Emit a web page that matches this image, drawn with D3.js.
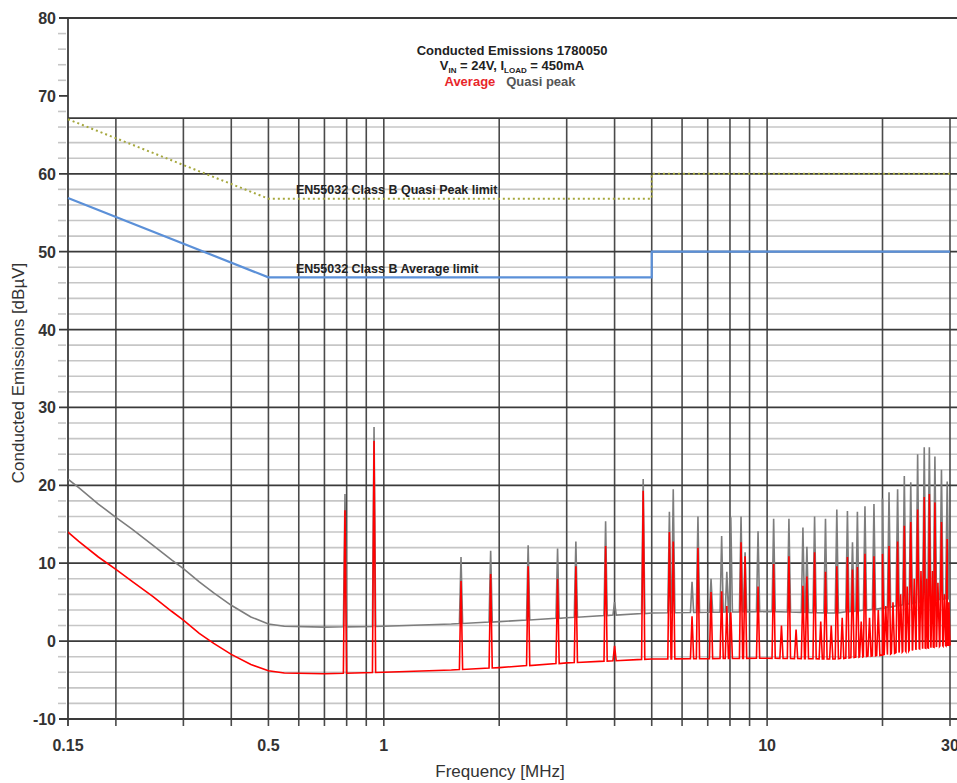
<!DOCTYPE html>
<html>
<head>
<meta charset="utf-8">
<script src="https://cdn.jsdelivr.net/npm/d3@7/dist/d3.min.js"></script>
<style>
  body { margin: 0; background: #fff; }
  svg { display: block; font-family: "Liberation Sans", Arial, sans-serif; }
</style>
</head>
<body>
<svg></svg>
<script>
// values (MHz / dBuV)
let baseFreq = [0.15, 0.16, 0.18, 0.2, 0.22, 0.25, 0.28, 0.3, 0.33, 0.36, 0.4, 0.45, 0.5, 0.55, 0.7, 1, 1.5, 2, 3, 5, 10, 15, 20, 25, 30]
let avgBase  = [14, 12.8, 10.8, 9.2, 7.7, 5.7, 3.8, 2.7, 1.0, -0.3, -1.7, -3.0, -3.8, -4.1, -4.2, -4.0, -3.7, -3.4, -2.8, -2.3, -2.2, -2.3, -1.8, -1.0, -0.5]
let qpBase   = [20.8, 19.7, 17.6, 15.9, 14.4, 12.3, 10.4, 9.3, 7.6, 6.2, 4.6, 3.1, 2.2, 1.9, 1.8, 1.9, 2.2, 2.5, 3.0, 3.6, 3.8, 3.6, 4.2, 5.0, 5.5]

let spikeFreq = [0.792, 0.943, 1.59, 1.90, 2.38, 2.84, 3.17, 3.79, 4.00, 4.75, 5.56, 5.69, 6.37, 6.60, 7.14, 7.61, 7.85, 8.04,
                 8.55, 8.76, 9.47, 10.4, 11.4, 12.4, 12.7, 13.3, 14.2, 15.2, 16.2, 16.7, 17.2, 18.0, 19.0, 20.0, 20.8, 21.9,
                 22.8, 23.7, 24.7, 25.7, 26.5, 27.4, 28.5, 29.5]
let avgPeak = [16.8, 25.7, 7.7, 8.6, 9.6, 8.0, 9.6, 12.2, -0.6, 19.3, 14.0, 12.8, 3.2, 12.0, 6.3, 6.4, 4.5, 3.7,
               12.7, 10.9, 7.0, 9.9, 10.9, 7.1, 8.3, 11.4, 8.9, 9.6, 10.8, 9.2, 9.5, 11.2, 10.9, 11.2, 12.2, 12.8,
               14.8, 15.3, 16.9, 18.5, 18.9, 17.8, 15.3, 13.1]
let qpPeak  = [18.9, 27.5, 10.8, 11.6, 12.3, 11.9, 12.8, 15.4, 5.0, 20.8, 16.6, 19.5, 7.6, 16.0, 8.0, 13.5, 8.9, 15.9,
               16.0, 11.4, 14.1, 15.7, 15.7, 14.6, 12.1, 16.0, 15.7, 16.9, 16.7, 12.7, 16.6, 17.3, 17.6, 18.3, 19.1, 19.5,
               21.2, 20.4, 24.0, 24.9, 24.9, 23.7, 22.0, 20.5]

// smaller average-only harmonics in the dense part above 10 MHz
let minorFreq = [10.9, 11.9, 13.8, 14.7, 15.7, 17.6, 18.5, 19.5, 20.4, 21.3, 22.3, 23.2, 24.2, 25.2, 26.1, 27.0, 27.9, 29.0, 29.8]
let minorAvg  = [2.0, 1.5, 2.5, 2.0, 3.0, 2.5, 3.0, 4.0, 4.5, 5.0, 6.0, 7.0, 8.0, 9.0, 8.0, 9.0, 7.5, 6.0, 5.0]

let qpLimitFreq  = [0.15, 0.5, 5, 5, 30]
let qpLimit      = [67, 56.8, 56.8, 60, 60]
let avgLimitFreq = [0.15, 0.5, 5, 5, 30]
let avgLimit     = [56.9, 46.7, 46.7, 50, 50]

let xTickLabels = [0.15, 0.5, 1, 10, 30]
let xGridFreq = [0.2, 0.3, 0.4, 0.5, 0.6, 0.7, 0.8, 0.9, 1, 2, 3, 4, 5, 6, 7, 8, 9, 10, 20, 30]
let yMajor = [-10, 0, 10, 20, 30, 40, 50, 60, 70, 80]
let yMinor = [-8, -6, -4, -2, 2, 4, 6, 8, 12, 14, 16, 18, 22, 24, 26, 28, 32, 34, 36, 38, 42, 44, 46, 48,
              52, 54, 56, 58, 62, 64, 66, 68, 72, 74, 76, 78]

let width = 957
let height = 783
let plotLeft = 68
let plotRight = 950
let plotTop = 18
let plotBottom = 719
let gridTopDb = 67.15

let svg = d3.select("svg").attr("width", width).attr("height", height)

let xScale = d3.scaleLog().domain([0.15, 30]).range([plotLeft, plotRight])
let yScale = d3.scaleLinear().domain([-10, 80]).range([plotBottom, plotTop])
let gridTop = yScale(gridTopDb)

let drawGrid = () => {
  let g = svg.append("g")
  // minor horizontal lines, ticks only above the grid box
  g.selectAll(".minor")
   .data(yMinor)
   .enter()
   .append("line")
   .attr("x1", d => d < gridTopDb ? plotLeft : 58)
   .attr("x2", d => d < gridTopDb ? width : 66)
   .attr("y1", d => yScale(d))
   .attr("y2", d => yScale(d))
   .attr("stroke", "#c6c6c6")
   .attr("stroke-width", 1.6)
  g.selectAll(".minortick")
   .data(yMinor.filter(d => d < gridTopDb))
   .enter()
   .append("line")
   .attr("x1", 58).attr("x2", 66)
   .attr("y1", d => yScale(d)).attr("y2", d => yScale(d))
   .attr("stroke", "#c6c6c6")
   .attr("stroke-width", 1.6)
  // vertical lines
  g.selectAll(".vert")
   .data(xGridFreq)
   .enter()
   .append("line")
   .attr("x1", d => xScale(d))
   .attr("x2", d => xScale(d))
   .attr("y1", gridTop)
   .attr("y2", plotBottom + 7)
   .attr("stroke", "#4a4a4a")
   .attr("stroke-width", 1.6)
  // major horizontal lines
  g.selectAll(".major")
   .data(yMajor)
   .enter()
   .append("line")
   .attr("x1", 59)
   .attr("x2", d => (d < gridTopDb || d == 80) ? width : plotLeft)
   .attr("y1", d => yScale(d))
   .attr("y2", d => yScale(d))
   .attr("stroke", "#3a3a3a")
   .attr("stroke-width", 1.8)
  // top of the grid box
  g.append("line")
   .attr("x1", plotLeft).attr("x2", width)
   .attr("y1", gridTop).attr("y2", gridTop)
   .attr("stroke", "#3a3a3a").attr("stroke-width", 1.6)
  // left axis
  g.append("line")
   .attr("x1", plotLeft).attr("x2", plotLeft)
   .attr("y1", plotTop).attr("y2", plotBottom + 7)
   .attr("stroke", "#3a3a3a").attr("stroke-width", 1.8)
}

let drawLabels = () => {
  svg.append("g")
     .selectAll("text")
     .data(yMajor)
     .enter()
     .append("text")
     .attr("x", 56)
     .attr("y", d => yScale(d) + 6)
     .attr("text-anchor", "end")
     .attr("font-size", 16)
     .attr("font-weight", "bold")
     .attr("fill", "#333")
     .text(d => d)

  svg.append("g")
     .selectAll("text")
     .data(xTickLabels)
     .enter()
     .append("text")
     .attr("x", d => xScale(d))
     .attr("y", 751)
     .attr("text-anchor", "middle")
     .attr("font-size", 16)
     .attr("font-weight", "bold")
     .attr("fill", "#333")
     .text(d => d)

  svg.append("text")
     .attr("x", 500)
     .attr("y", 777)
     .attr("text-anchor", "middle")
     .attr("font-size", 17)
     .attr("fill", "#333")
     .text("Frequency [MHz]")

  svg.append("text")
     .attr("transform", "translate(24, 373) rotate(-90)")
     .attr("text-anchor", "middle")
     .attr("font-size", 17)
     .attr("fill", "#333")
     .text("Conducted Emissions [dB\u00b5V]")

  // title block
  svg.append("text")
     .attr("x", 512).attr("y", 55)
     .attr("text-anchor", "middle")
     .attr("font-size", 13).attr("font-weight", "bold").attr("fill", "#222")
     .text("Conducted Emissions 1780050")

  let sub = svg.append("text")
     .attr("x", 512).attr("y", 70)
     .attr("text-anchor", "middle")
     .attr("font-size", 13).attr("font-weight", "bold").attr("fill", "#222")
  sub.append("tspan").text("V")
  sub.append("tspan").attr("font-size", 8).attr("dy", 3).text("IN")
  sub.append("tspan").attr("dy", -3).text(" = 24V, I")
  sub.append("tspan").attr("font-size", 8).attr("dy", 3).text("LOAD")
  sub.append("tspan").attr("dy", -3).text(" = 450mA")

  let leg = svg.append("text")
     .attr("x", 510).attr("y", 86)
     .attr("text-anchor", "middle")
     .attr("font-size", 13).attr("font-weight", "bold")
  leg.append("tspan").attr("fill", "#e8262a").text("Average")
  leg.append("tspan").attr("fill", "#555").text("\u00a0\u00a0\u00a0Quasi peak")

  svg.append("text")
     .attr("x", 296).attr("y", 194)
     .attr("font-size", 12.5).attr("font-weight", "bold").attr("fill", "#222")
     .text("EN55032 Class B Quasi Peak limit")
  svg.append("text")
     .attr("x", 296).attr("y", 273)
     .attr("font-size", 12.5).attr("font-weight", "bold").attr("fill", "#222")
     .text("EN55032 Class B Average limit")
}

let tracePoints = (base, freqs, peaks) => {
  let baseAt = d3.scaleLog().domain(baseFreq).range(base)
  let pts = baseFreq.map((f, i) => [xScale(f), yScale(base[i])])
  freqs.forEach((f, i) => {
    let x = xScale(f)
    let yb = yScale(baseAt(f))
    pts.push([x - 1.6, yb], [x, yScale(peaks[i])], [x + 1.6, yb])
  })
  pts.sort((a, b) => a[0] - b[0])
  return pts
}

let drawTraces = () => {
  let line = d3.line()
  svg.append("clipPath")
     .attr("id", "plot")
     .append("rect")
     .attr("x", plotLeft).attr("y", gridTop)
     .attr("width", plotRight - plotLeft + 2).attr("height", plotBottom - gridTop)

  let g = svg.append("g").attr("clip-path", "url(#plot)")

  g.append("path")
   .attr("d", line(tracePoints(qpBase, spikeFreq, qpPeak)))
   .attr("fill", "none")
   .attr("stroke", "#7d7d7d")
   .attr("stroke-width", 1.6)

  g.append("path")
   .attr("d", line(tracePoints(avgBase, spikeFreq.concat(minorFreq), avgPeak.concat(minorAvg))))
   .attr("fill", "none")
   .attr("stroke", "#ff0000")
   .attr("stroke-width", 1.6)
}

let drawLimits = () => {
  let line = d3.line()
  let qpPts = qpLimitFreq.map((f, i) => [xScale(f), yScale(qpLimit[i])])
  let avgPts = avgLimitFreq.map((f, i) => [xScale(f), yScale(avgLimit[i])])

  svg.append("path")
     .attr("d", line(qpPts))
     .attr("fill", "none")
     .attr("stroke", "#a6a83e")
     .attr("stroke-width", 2)
     .attr("stroke-dasharray", "2,3")
  svg.append("path")
     .attr("d", line(avgPts))
     .attr("fill", "none")
     .attr("stroke", "#5b90d8")
     .attr("stroke-width", 2.2)
}

drawGrid()
drawTraces()
drawLimits()
drawLabels()
</script>
</body>
</html>
